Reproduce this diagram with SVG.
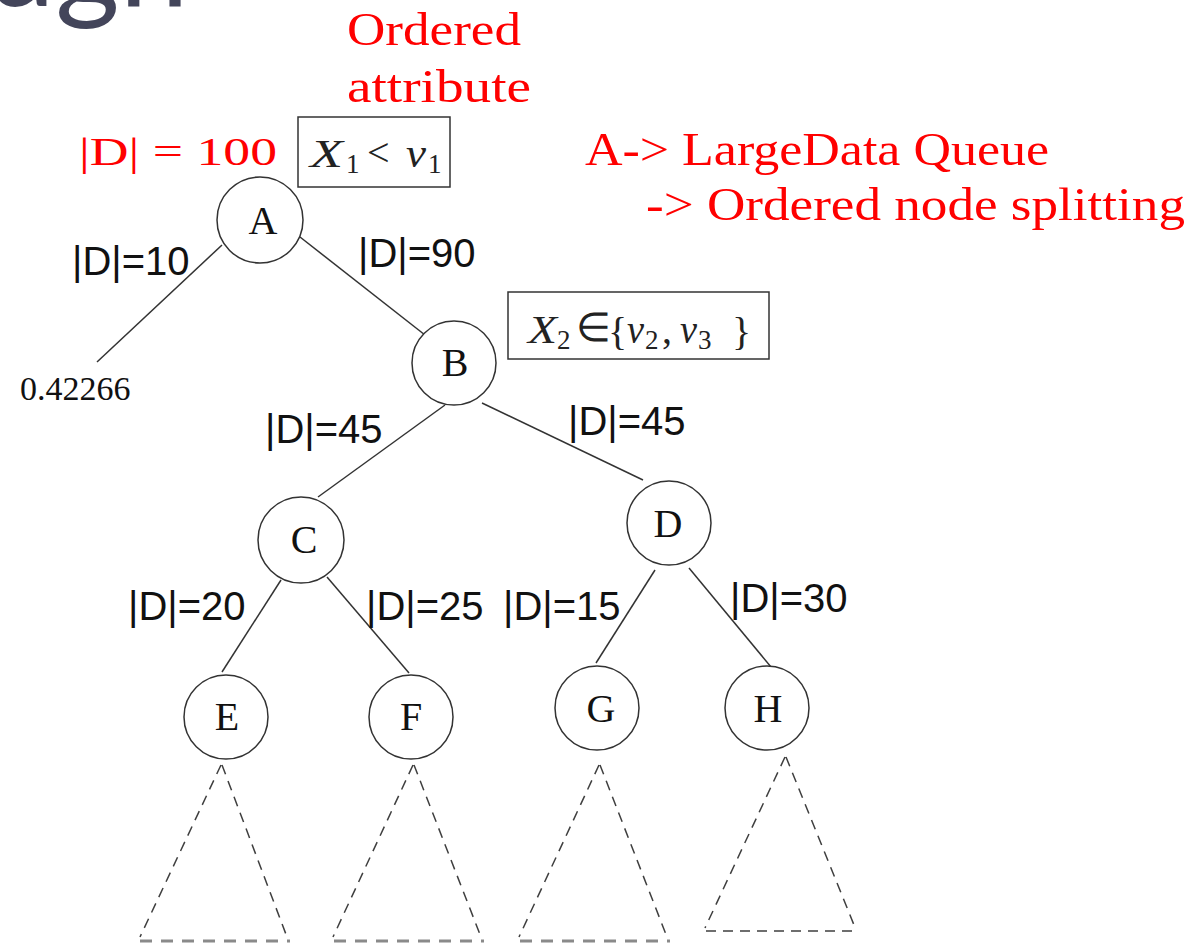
<svg xmlns="http://www.w3.org/2000/svg" width="1198" height="943" viewBox="0 0 1198 943">
  <style>
    .node { fill: #ffffff; stroke: #333333; stroke-width: 1.5; }
    .nlabel { font-family: "Liberation Serif", "Times New Roman", serif; font-size: 40px; fill: #111111; text-anchor: middle; }
    .edge { stroke: #333333; stroke-width: 1.5; fill: none; }
    .elabel { font-family: "Liberation Sans", Arial, sans-serif; font-size: 40px; fill: #111111; }
    .subtree { stroke: #3f3f3f; stroke-width: 1.5; fill: none; stroke-dasharray: 10 7; }
    .subbase { stroke: #8a8a8a; stroke-width: 3; fill: none; stroke-dasharray: 12 9; }
    .box { fill: #ffffff; stroke: #333333; stroke-width: 1.5; }
    .math { font-family: "Liberation Serif", "Times New Roman", serif; font-size: 40px; fill: #222222; }
    .mi { font-style: italic; }
    .sub { font-size: 27px; }
    .red { font-family: "Liberation Serif", "Times New Roman", serif; fill: #ff0000; }
  </style>

  <!-- title fragment -->
  <text x="-14" y="6" font-family="Lato, 'Open Sans', sans-serif" font-size="124" fill="#43455a">ugh</text>

  <!-- red annotations -->
  <g id="notes">
    <text class="red" x="347" y="45" font-size="46" textLength="174" lengthAdjust="spacingAndGlyphs">Ordered</text>
    <text class="red" x="347" y="102" font-size="46" textLength="184" lengthAdjust="spacingAndGlyphs">attribute</text>
    <text class="red" x="79" y="165" font-size="41" textLength="198" lengthAdjust="spacingAndGlyphs">|D| = 100</text>
    <text class="red" x="585" y="165" font-size="46" textLength="464" lengthAdjust="spacingAndGlyphs">A-&gt; LargeData Queue</text>
    <text class="red" x="646" y="220" font-size="46" textLength="539" lengthAdjust="spacingAndGlyphs">-&gt; Ordered node splitting</text>
  </g>

  <!-- split conditions -->
  <g id="cond-A">
    <rect class="box" x="298" y="117" width="152" height="70"/>
    <text class="math mi" x="310" y="167" textLength="33" lengthAdjust="spacingAndGlyphs">X</text>
    <text class="math sub" x="346" y="173">1</text>
    <text class="math" x="367" y="166">&lt;</text>
    <text class="math mi" x="406" y="167" textLength="20" lengthAdjust="spacingAndGlyphs">v</text>
    <text class="math sub" x="428" y="173">1</text>
  </g>
  <g id="cond-B">
    <rect class="box" x="508" y="292" width="261" height="67"/>
    <text class="math mi" x="528" y="343" textLength="29" lengthAdjust="spacingAndGlyphs">X</text>
    <text class="math sub" x="557" y="349">2</text>
    <text class="math" x="576" y="341" font-size="28">∈</text>
    <text class="math" x="608" y="345" font-size="42">{</text>
    <text class="math mi" x="627" y="343" textLength="17" lengthAdjust="spacingAndGlyphs">v</text>
    <text class="math sub" x="645" y="349">2</text>
    <text class="math" x="662" y="343">,</text>
    <text class="math mi" x="680" y="343" textLength="17" lengthAdjust="spacingAndGlyphs">v</text>
    <text class="math sub" x="698" y="349">3</text>
    <text class="math" x="732" y="345" font-size="42">}</text>
  </g>

  <!-- connectors -->
  <g id="connectors">
    <line class="edge" x1="222" y1="245" x2="97" y2="362"/>
    <line class="edge" x1="300" y1="237" x2="425" y2="335"/>
    <line class="edge" x1="445" y1="405" x2="318" y2="497"/>
    <line class="edge" x1="482" y1="403" x2="643" y2="480"/>
    <line class="edge" x1="281" y1="580" x2="222" y2="672"/>
    <line class="edge" x1="327" y1="577" x2="409" y2="673"/>
    <line class="edge" x1="655" y1="570" x2="596" y2="663"/>
    <line class="edge" x1="689" y1="568" x2="771" y2="667"/>

    <text class="elabel" x="72" y="275">|D|=10</text>
    <text class="elabel" x="358" y="267">|D|=90</text>
    <text class="elabel" x="265" y="443">|D|=45</text>
    <text class="elabel" x="568" y="435">|D|=45</text>
    <text class="elabel" x="128" y="620">|D|=20</text>
    <text class="elabel" x="366" y="620">|D|=25</text>
    <text class="elabel" x="503" y="620">|D|=15</text>
    <text class="elabel" x="730" y="612">|D|=30</text>
  </g>

  <!-- leaf value -->
  <g id="leaf">
    <text x="20" y="400" font-family="'Liberation Serif', 'Times New Roman', serif" font-size="34" fill="#111111">0.42266</text>
  </g>

  <!-- tree nodes -->
  <g id="node-A"><circle class="node" cx="260" cy="220" r="43"/><text class="nlabel" x="263" y="234">A</text></g>
  <g id="node-B"><circle class="node" cx="454" cy="363" r="42"/><text class="nlabel" x="455" y="376">B</text></g>
  <g id="node-C"><circle class="node" cx="301" cy="540" r="43"/><text class="nlabel" x="304" y="553">C</text></g>
  <g id="node-D"><circle class="node" cx="669" cy="523" r="42"/><text class="nlabel" x="668" y="537">D</text></g>
  <g id="node-E"><circle class="node" cx="226" cy="717" r="42"/><text class="nlabel" x="227" y="730">E</text></g>
  <g id="node-F"><circle class="node" cx="411" cy="717" r="42"/><text class="nlabel" x="411" y="730">F</text></g>
  <g id="node-G"><circle class="node" cx="597" cy="708" r="42"/><text class="nlabel" x="601" y="722">G</text></g>
  <g id="node-H"><circle class="node" cx="767" cy="708" r="42"/><text class="nlabel" x="768" y="722">H</text></g>

  <!-- unexpanded subtrees -->
  <g id="subtrees">
    <path class="subtree" d="M221 765 L140 937 M222 765 L287 937"/>
    <line class="subbase" x1="140" y1="941" x2="290" y2="941"/>
    <path class="subtree" d="M413 765 L333 937 M414 765 L481 937"/>
    <line class="subbase" x1="334" y1="941" x2="484" y2="941"/>
    <path class="subtree" d="M599 765 L519 937 M600 765 L667 937"/>
    <line class="subbase" x1="520" y1="941" x2="670" y2="941"/>
    <path class="subtree" d="M785 757 L705 928 M786 757 L854 925"/>
    <path class="subtree" d="M706 931 L856 931" stroke-dasharray="12 9"/>
  </g>
</svg>
